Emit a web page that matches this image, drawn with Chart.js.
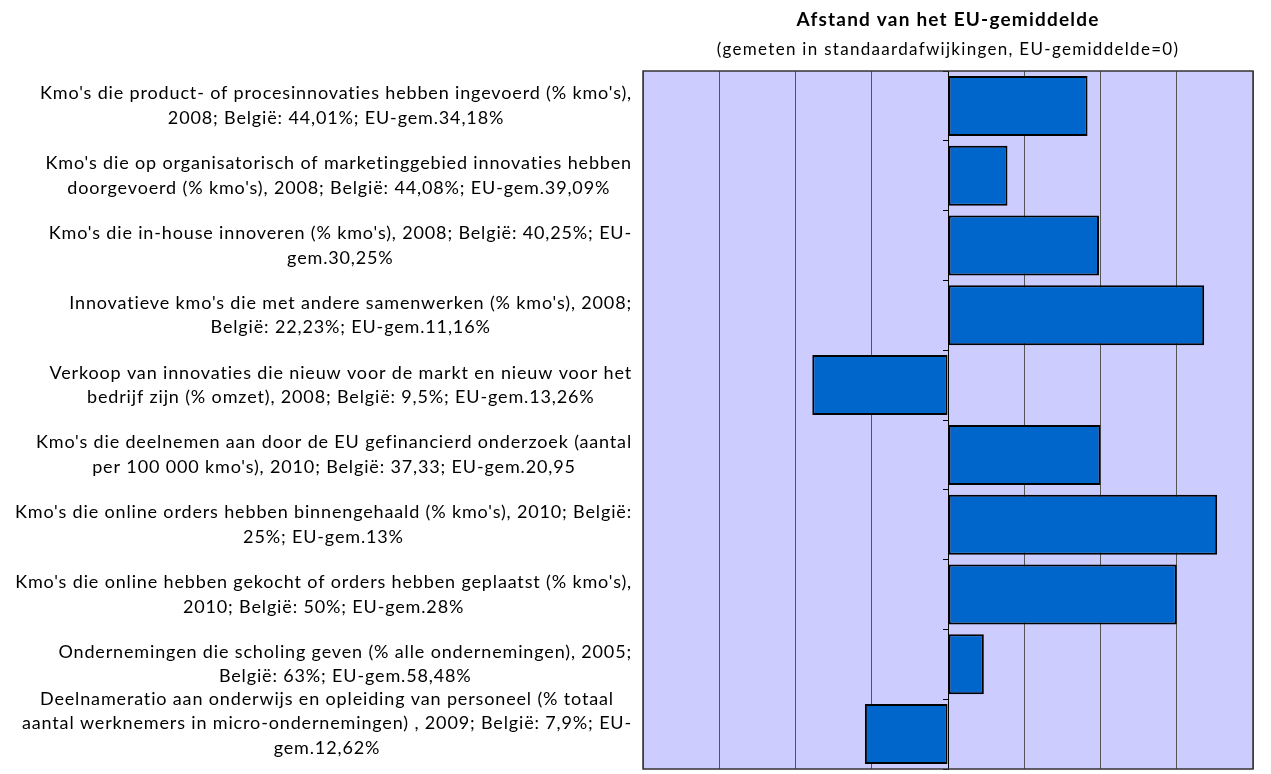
<!DOCTYPE html>
<html>
<head>
<meta charset="utf-8">
<script src="https://cdn.jsdelivr.net/npm/chart.js@4.4.0/dist/chart.umd.min.js"></script>
<style>
  html, body { margin: 0; padding: 0; background: #fff; }
  #wrap { width: 1271px; height: 774px; }
</style>
</head>
<body>
<div id="wrap"><canvas id="chart" width="1271" height="774"></canvas></div>
<script>
// Data
const categories = [
    ["Kmo's die product- of procesinnovaties hebben ingevoerd (% kmo's),", "2008; België: 44,01%; EU-gem.34,18%"],
    ["Kmo's die op organisatorisch of marketinggebied innovaties hebben", "doorgevoerd (% kmo's), 2008; België: 44,08%; EU-gem.39,09%"],
    ["Kmo's die in-house innoveren (% kmo's), 2008; België: 40,25%; EU-", "gem.30,25%"],
    ["Innovatieve kmo's die met andere samenwerken (% kmo's), 2008;", "België: 22,23%; EU-gem.11,16%"],
    ["Verkoop van innovaties die nieuw voor de markt en nieuw voor het", "bedrijf zijn (% omzet), 2008; België: 9,5%; EU-gem.13,26%"],
    ["Kmo's die deelnemen aan door de EU gefinancierd onderzoek (aantal", "per 100 000 kmo's), 2010; België: 37,33; EU-gem.20,95"],
    ["Kmo's die online orders hebben binnengehaald (% kmo's), 2010; België:", "25%; EU-gem.13%"],
    ["Kmo's die online hebben gekocht of orders hebben geplaatst (% kmo's),", "2010; België: 50%; EU-gem.28%"],
    ["Ondernemingen die scholing geven (% alle ondernemingen), 2005;", "België: 63%; EU-gem.58,48%"],
    ["Deelnameratio aan onderwijs en opleiding van personeel (% totaal", "aantal werknemers in micro-ondernemingen) , 2009; België: 7,9%; EU-", "gem.12,62%"]
];
const distance = [0.915, 0.39, 0.99, 1.68, -0.89, 1.0, 1.765, 1.5, 0.235, -0.545];

const titleText = 'Afstand van het EU-gemiddelde';
const subtitleText = '(gemeten in standaardafwijkingen, EU-gemiddelde=0)';

const FONT = "Lato, 'Open Sans', sans-serif";

// Plot background and frame
const plotFrame = {
    id: 'plotFrame',
    beforeDraw(chart) {
        const { ctx, chartArea: a } = chart;
        ctx.save();
        ctx.fillStyle = '#CCCCFF';
        ctx.fillRect(a.left, a.top, a.right - a.left, a.bottom - a.top);
        ctx.restore();
    },
    afterDraw(chart) {
        const { ctx, chartArea: a } = chart;
        ctx.save();
        ctx.strokeStyle = '#333';
        ctx.lineWidth = 1.5;
        ctx.strokeRect(a.left, a.top, a.right - a.left, a.bottom - a.top);
        ctx.restore();
    }
};

// Titles over the plot area + category labels (block right-aligned, lines centered)
const textLayer = {
    id: 'textLayer',
    afterDraw(chart) {
        const { ctx, chartArea: a } = chart;
        const y = chart.scales.y;
        const mid = (a.left + a.right) / 2;
        ctx.save();
        ctx.fillStyle = '#000';
        ctx.textAlign = 'center';
        ctx.textBaseline = 'middle';

        ctx.font = 'bold 19px ' + FONT;
        ctx.letterSpacing = '1.2px';
        ctx.fillText(titleText, mid, 20);
        ctx.font = '17px ' + FONT;
        ctx.letterSpacing = '1.3px';
        ctx.fillText(subtitleText, mid, 50);

        const rightEdge = 632;
        const lineH = 24.5;
        const lastLineMax = 748;
        ctx.font = '18px ' + FONT;
        ctx.letterSpacing = '0.85px';
        categories.forEach((lines, i) => {
            const w = Math.max(...lines.map(l => ctx.measureText(l).width));
            const cx = rightEdge - w / 2;
            const cy = y.getPixelForValue(i);
            let y0 = cy - (lines.length - 1) * lineH / 2;
            // keep the block inside the canvas, as the original does
            const overflow = y0 + (lines.length - 1) * lineH - lastLineMax;
            if (overflow > 0) y0 -= overflow;
            lines.forEach((l, j) => ctx.fillText(l, cx, y0 + j * lineH));
        });
        ctx.restore();
    }
};

const ctx = document.getElementById('chart').getContext('2d');
new Chart(ctx, {
    type: 'bar',
    data: {
        labels: categories,
        datasets: [{
            data: distance,
            backgroundColor: '#0066CC',
            borderColor: '#000',
            borderWidth: 2,
            borderSkipped: false,
            categoryPercentage: 1,
            barPercentage: 0.86
        }]
    },
    options: {
        indexAxis: 'y',
        responsive: false,
        animation: false,
        layout: { padding: { left: 643, right: 18, top: 71, bottom: 5 } },
        plugins: {
            legend: { display: false },
            tooltip: { enabled: false }
        },
        scales: {
            x: {
                min: -2,
                max: 2,
                ticks: { display: false, stepSize: 0.5 },
                grid: { color: '#555', lineWidth: 1, drawTicks: false },
                border: { display: false },
                afterFit: (s) => { s.height = 0; }
            },
            y: {
                position: { x: 0 },
                ticks: { display: false },
                grid: { drawOnChartArea: false, drawTicks: true, tickLength: 5, color: '#000', offset: true },
                border: { display: true, color: '#000', width: 1 }
            }
        }
    },
    plugins: [plotFrame, textLayer]
});
</script>
</body>
</html>
